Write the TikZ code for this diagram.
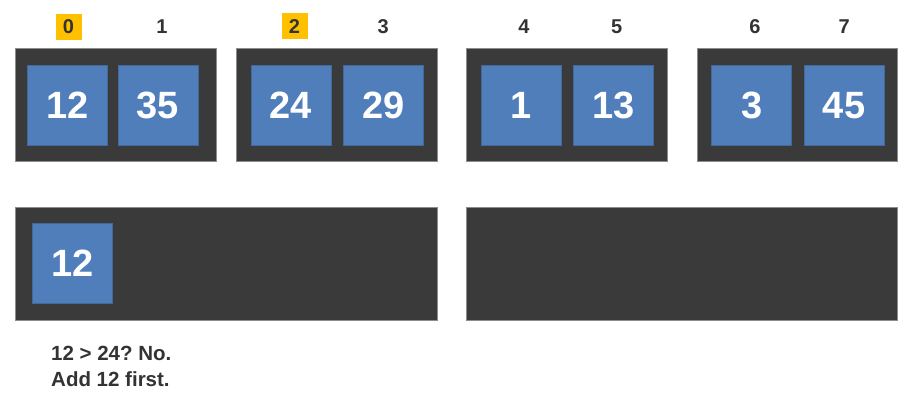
\documentclass[tikz,border=0pt]{standalone}
\usepackage{fontspec}
\setmainfont{Liberation Sans}
\frenchspacing
\definecolor{boxgray}{HTML}{3A3A3A}
\definecolor{boxedge}{HTML}{8C8C8C}
\definecolor{cellblue}{HTML}{4F7EBA}
\definecolor{celledge}{HTML}{42699C}
\definecolor{gold}{HTML}{FFC000}
\definecolor{txt}{HTML}{333333}
\tikzset{
  x=1pt, y=-1pt,
  holder/.style={draw=boxedge, line width=0.8pt, fill=boxgray},
  cell/.style={draw=celledge, line width=0.6pt, fill=cellblue, minimum width=80pt, minimum height=80pt, inner sep=0pt, text=white, font=\fontsize{38}{40}\selectfont\bfseries},
  idx/.style={inner sep=0pt, text=txt, font=\fontsize{20}{22}\selectfont\bfseries},
  hl/.style={fill=gold, minimum width=26pt, minimum height=26pt, inner sep=0pt},
  note/.style={anchor=north west, align=left, inner sep=0pt, text=txt, font=\fontsize{20.5}{26.7}\selectfont\bfseries}
}
\begin{document}
\begin{tikzpicture}
\useasboundingbox (0,0) rectangle (908,406);
% top holders
\draw[holder] (15,48) rectangle (216,161);
\draw[holder] (236,48) rectangle (437,161);
\draw[holder] (466,48) rectangle (667,161);
\draw[holder] (697,48) rectangle (897,161);
% bottom holders
\draw[holder] (15,207.5) rectangle (437,320);
\draw[holder] (466.5,207.5) rectangle (897,320);
% cells
\node[cell] (c0) at (67.7,105.3) {12};
\node[cell] (c1) at (158,105.3) {35};
\node[cell] (c2) at (291,105.3) {24};
\node[cell] (c3) at (383.3,105.3) {29};
\node[cell] (c4) at (521,105.3) {1};
\node[cell] (c5) at (613.7,105.3) {13};
\node[cell] (c6) at (751.7,105.3) {3};
\node[cell] (c7) at (844,105.3) {45};
\node[cell] (r0) at (72.3,263) {12};
% highlights
\node[hl] (h0) at (69.3,26.7) {};
\node[hl] (h2) at (294.5,25.7) {};
% indices
\node[idx] (i0) at (68.5,26.3) {0};
\node[idx] (i1) at (162,26.3) {1};
\node[idx] (i2) at (294.5,26.3) {2};
\node[idx] (i3) at (383.3,26.3) {3};
\node[idx] (i4) at (524,26.3) {4};
\node[idx] (i5) at (616.7,26.3) {5};
\node[idx] (i6) at (755,26.3) {6};
\node[idx] (i7) at (844.3,26.3) {7};
% note
\node[note] (n) at (51,345.5) {12 > 24? No.\\Add 12 first.};
\end{tikzpicture}
\end{document}
